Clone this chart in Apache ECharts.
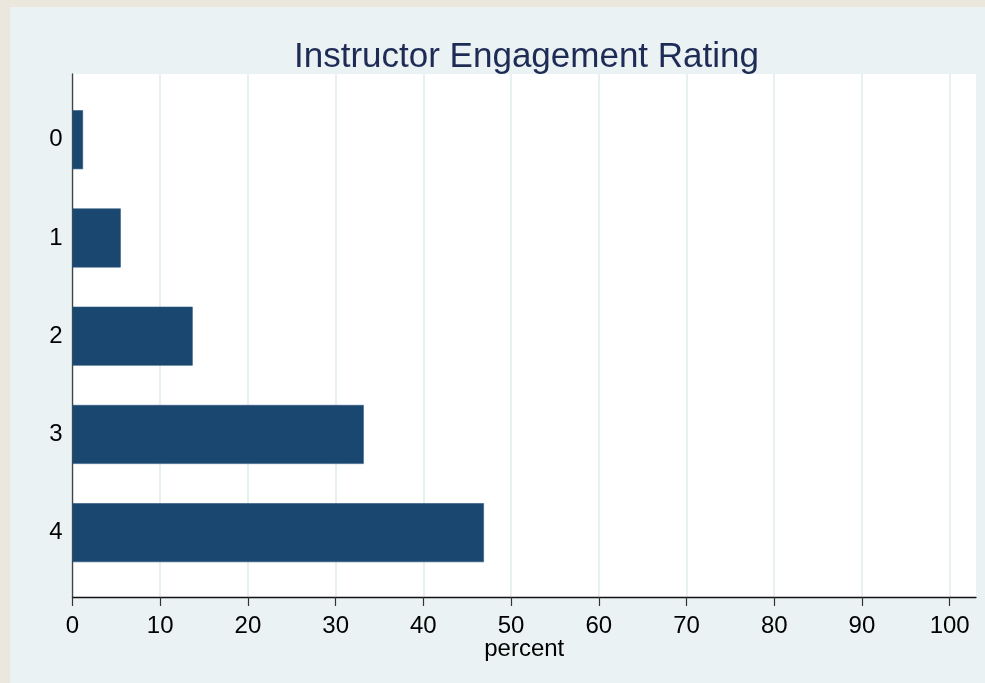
<!DOCTYPE html>
<html>
<head>
<meta charset="utf-8">
<script src="https://cdn.jsdelivr.net/npm/echarts@6/dist/echarts.min.js"></script>
<style>
  html, body { margin: 0; padding: 0; width: 985px; height: 683px; background: #ebe7dd; overflow: hidden; }
  #chart { position: absolute; left: 10px; top: 7px; width: 975px; height: 676px; }
</style>
</head>
<body>
<div id="chart"></div>
<script>
// ---- data ----
const categories = ['0', '1', '2', '3', '4'];
const percents = [1.2, 5.5, 13.7, 33.2, 46.9];
const xTicks = [0, 10, 20, 30, 40, 50, 60, 70, 80, 90, 100];
const titleText = 'Instructor Engagement Rating';
const xName = 'percent';

const FONT = '"Liberation Sans", Arial, Helvetica, sans-serif';
const X_MAX = 103;

const chart = echarts.init(document.getElementById('chart'), null, { renderer: 'canvas' });
chart.setOption({
  backgroundColor: '#eaf2f3',
  animation: false,
  title: {
    text: titleText,
    left: 279,
    top: 28,
    textStyle: { fontFamily: FONT, fontSize: 35, fontWeight: 'normal', color: '#1e2b55' }
  },
  grid: [
    { left: 62.5, right: 9, top: 67, bottom: 86, show: true, backgroundColor: '#ffffff', borderWidth: 0, containLabel: false },
    { left: 62.5, right: 9, top: 83.6, bottom: 101.2, containLabel: false }
  ],
  xAxis: [
    {
      gridIndex: 0, type: 'value', min: 0, max: X_MAX,
      name: xName, nameLocation: 'middle', nameGap: 40, nameMoveOverlap: false,
      nameTextStyle: { fontFamily: FONT, fontSize: 24, color: '#000' },
      axisLine: { show: true, lineStyle: { color: '#111', width: 1.3 } },
      axisTick: { show: true, length: 9, customValues: xTicks, lineStyle: { color: '#333', width: 1.2 } },
      axisLabel: { customValues: xTicks, fontFamily: FONT, fontSize: 24, color: '#000', margin: 17 },
      splitLine: { show: true, lineStyle: { color: '#e6f0f1', width: 1.8 } }
    },
    {
      gridIndex: 1, type: 'value', min: 0, max: X_MAX,
      show: false, splitLine: { show: false }
    }
  ],
  yAxis: [
    {
      gridIndex: 0, type: 'value', min: 0, max: 1,
      axisLine: { show: true, lineStyle: { color: '#444', width: 1.3 } },
      axisTick: { show: false }, axisLabel: { show: false }, splitLine: { show: false }
    },
    {
      gridIndex: 1, type: 'category', data: categories, inverse: true,
      axisLine: { show: false }, axisTick: { show: false },
      axisLabel: { fontFamily: FONT, fontSize: 24, color: '#000', margin: 10 },
      splitLine: { show: false }
    }
  ],
  series: [
    {
      type: 'bar', xAxisIndex: 1, yAxisIndex: 1,
      data: percents,
      barWidth: '60%',
      itemStyle: { color: '#1a476f', borderColor: '#2a5680', borderWidth: 0.6 },
      z: 3
    }
  ]
});
</script>
</body>
</html>
